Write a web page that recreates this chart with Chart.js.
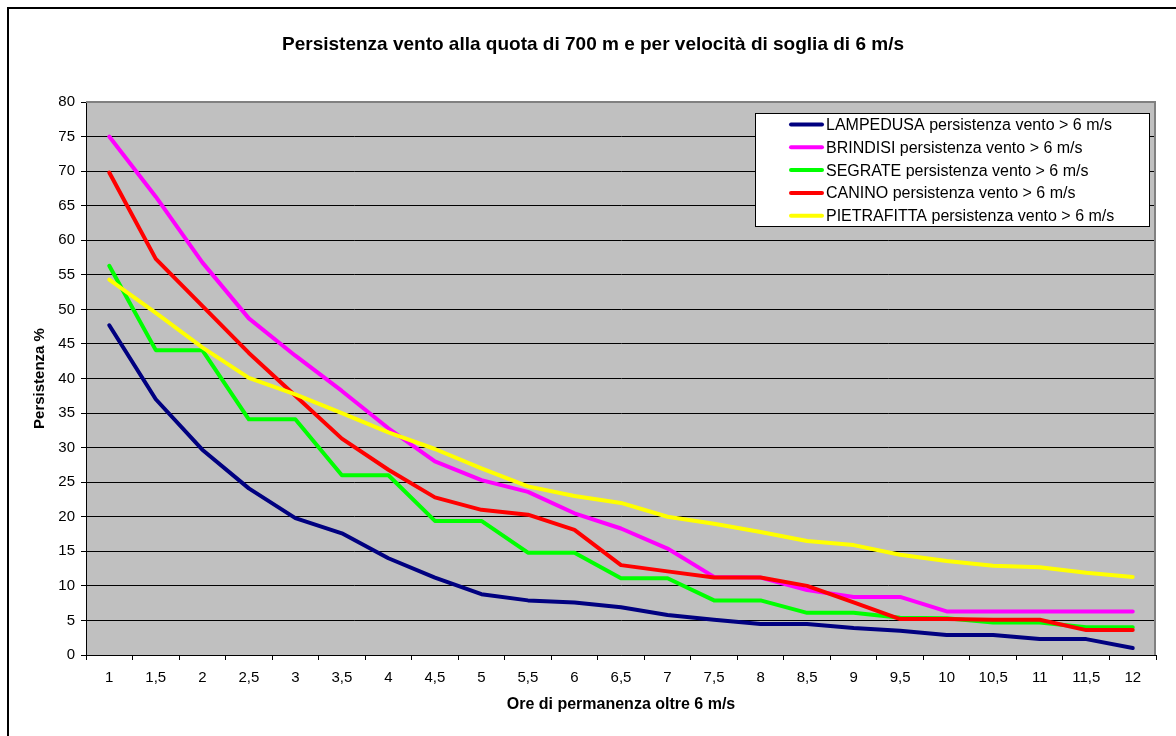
<!DOCTYPE html>
<html>
<head>
<meta charset="utf-8">
<title>Persistenza vento</title>
<script src="https://cdn.jsdelivr.net/npm/chart.js@4.4.0/dist/chart.umd.min.js"></script>
<style>
  html, body { margin: 0; padding: 0; background: #fff; }
  #chart { display: block; }
</style>
</head>
<body>
<canvas id="chart" width="1176" height="736"></canvas>
<script>
// ore di permanenza oltre la soglia (asse categorie)
const ORE = ["1", "1,5", "2", "2,5", "3", "3,5", "4", "4,5", "5", "5,5", "6", "6,5",
  "7", "7,5", "8", "8,5", "9", "9,5", "10", "10,5", "11", "11,5", "12"];

// persistenza % per stazione
const LAMPEDUSA = [47.7, 37.0, 29.7, 24.1, 19.8, 17.6, 14.0, 11.2, 8.8, 7.9, 7.6, 6.9,
  5.8, 5.1, 4.5, 4.5, 3.9, 3.5, 2.9, 2.9, 2.3, 2.3, 1.0];
const BRINDISI = [75.0, 66.3, 56.8, 48.7, 43.3, 38.2, 32.8, 28.0, 25.3, 23.6, 20.5, 18.3,
  15.4, 11.3, 11.2, 9.4, 8.4, 8.4, 6.3, 6.3, 6.3, 6.3, 6.3];
const SEGRATE = [56.3, 44.1, 44.1, 34.1, 34.1, 26.0, 26.0, 19.4, 19.4, 14.8, 14.8, 11.1,
  11.1, 7.9, 7.9, 6.1, 6.1, 5.4, 5.3, 4.7, 4.7, 4.0, 4.0];
const CANINO = [69.8, 57.3, 50.5, 43.7, 37.5, 31.3, 26.8, 22.8, 21.0, 20.3, 18.1, 13.0,
  12.1, 11.2, 11.2, 10.0, 7.6, 5.2, 5.2, 5.1, 5.1, 3.6, 3.6];
const PIETRAFITTA = [54.3, 49.5, 44.5, 40.1, 37.7, 35.0, 32.2, 29.8, 27.0, 24.4, 23.0, 22.0,
  20.0, 19.0, 17.8, 16.5, 15.9, 14.5, 13.6, 12.9, 12.7, 11.9, 11.3];

const SERIE = [
  { nome: "LAMPEDUSA persistenza vento > 6 m/s", dati: LAMPEDUSA, colore: "#000080" },
  { nome: "BRINDISI persistenza vento > 6 m/s", dati: BRINDISI, colore: "#FF00FF" },
  { nome: "SEGRATE persistenza vento > 6 m/s", dati: SEGRATE, colore: "#00FF00" },
  { nome: "CANINO persistenza vento > 6 m/s", dati: CANINO, colore: "#FF0000" },
  { nome: "PIETRAFITTA persistenza vento > 6 m/s", dati: PIETRAFITTA, colore: "#FFFF00" },
];

const FONT = "'Liberation Sans', Arial, sans-serif";
Chart.defaults.font.family = FONT;
Chart.defaults.color = "#000";

// cornice, sfondo grigio dell'area del grafico e titolo
const sfondo = {
  id: "sfondo",
  beforeDraw(chart) {
    const ctx = chart.ctx;
    const a = chart.chartArea;
    ctx.save();
    ctx.fillStyle = "#fff";
    ctx.fillRect(0, 0, chart.width, chart.height);
    ctx.fillStyle = "#000";
    ctx.fillRect(7, 7, 2, chart.height);
    ctx.fillRect(7, 7, chart.width, 2);
    ctx.fillStyle = "#C0C0C0";
    ctx.fillRect(a.left, a.top, a.right - a.left, a.bottom - a.top);
    ctx.restore();
  },
  beforeDatasetsDraw(chart) {
    const ctx = chart.ctx;
    const a = chart.chartArea;
    ctx.save();
    ctx.strokeStyle = "#808080";
    ctx.lineWidth = 2;
    ctx.beginPath();
    ctx.moveTo(a.left, a.top);
    ctx.lineTo(a.right - 1, a.top);
    ctx.lineTo(a.right - 1, a.bottom);
    ctx.stroke();
    ctx.restore();
  },
  afterDraw(chart) {
    const ctx = chart.ctx;
    ctx.save();
    ctx.font = "bold 19px " + FONT;
    ctx.fillStyle = "#000";
    ctx.textAlign = "center";
    ctx.textBaseline = "middle";
    ctx.fillText("Persistenza vento alla quota di 700 m e per velocità di soglia di 6 m/s", 593, 45);
    ctx.restore();
  }
};

// legenda in riquadro bianco sopra l'area del grafico
const legenda = {
  id: "legenda",
  afterDraw(chart) {
    const ctx = chart.ctx;
    const x = 755, y = 113, w = 394, h = 113;
    ctx.save();
    ctx.fillStyle = "#fff";
    ctx.fillRect(x, y, w, h);
    ctx.strokeStyle = "#000";
    ctx.lineWidth = 1;
    ctx.strokeRect(x + 0.5, y + 0.5, w, h);
    ctx.font = "16px " + FONT;
    ctx.textBaseline = "middle";
    ctx.textAlign = "left";
    chart.data.datasets.forEach((ds, i) => {
      const cy = y + 12.5 + i * 22.8;
      ctx.strokeStyle = ds.borderColor;
      ctx.lineWidth = 4;
      ctx.lineCap = "round";
      ctx.beginPath();
      ctx.moveTo(791, cy - 1);
      ctx.lineTo(822, cy - 1);
      ctx.stroke();
      ctx.fillStyle = "#000";
      ctx.fillText(ds.label, 826, cy);
    });
    ctx.restore();
  }
};

new Chart(document.getElementById("chart"), {
  type: "line",
  data: {
    labels: ORE,
    datasets: SERIE.map((s, i) => ({
      label: s.nome,
      data: s.dati,
      borderColor: s.colore,
      backgroundColor: s.colore,
      borderWidth: 4,
      borderCapStyle: "round",
      borderJoinStyle: "round",
      pointRadius: 0,
      tension: 0,
      fill: false,
      order: SERIE.length - i,
    })),
  },
  options: {
    responsive: false,
    animation: false,
    devicePixelRatio: 1,
    layout: { padding: { left: 0, right: 20, top: 102, bottom: 0 } },
    plugins: {
      legend: { display: false },
      title: { display: false },
      tooltip: { enabled: false },
    },
    scales: {
      x: {
        type: "category",
        offset: true,
        grid: {
          offset: true,
          drawOnChartArea: false,
          drawTicks: true,
          tickLength: 5,
          tickColor: "#000",
        },
        border: { display: true, color: "#000", width: 1 },
        ticks: {
          font: { size: 15 },
          padding: 9,
          maxRotation: 0,
          autoSkip: false,
        },
        title: {
          display: true,
          text: "Ore di permanenza oltre 6 m/s",
          font: { size: 16, weight: "bold" },
          padding: { top: 0, bottom: 22 },
        },
        afterFit(scale) { scale.height = 81; },
      },
      y: {
        min: 0,
        max: 80,
        ticks: {
          stepSize: 5,
          font: { size: 15 },
          padding: 6,
        },
        grid: {
          color: (c) => (c.tick && c.tick.value === 80 ? "#808080" : "#000"),
          lineWidth: 1,
          tickLength: 5,
          tickColor: "#000",
        },
        border: { display: true, color: "#000", width: 1 },
        title: {
          display: true,
          text: "Persistenza %",
          font: { size: 15, weight: "bold" },
          padding: { top: 31, bottom: 0 },
        },
        afterFit(scale) { scale.width = 86; },
      },
    },
  },
  plugins: [sfondo, legenda],
});
</script>
</body>
</html>
